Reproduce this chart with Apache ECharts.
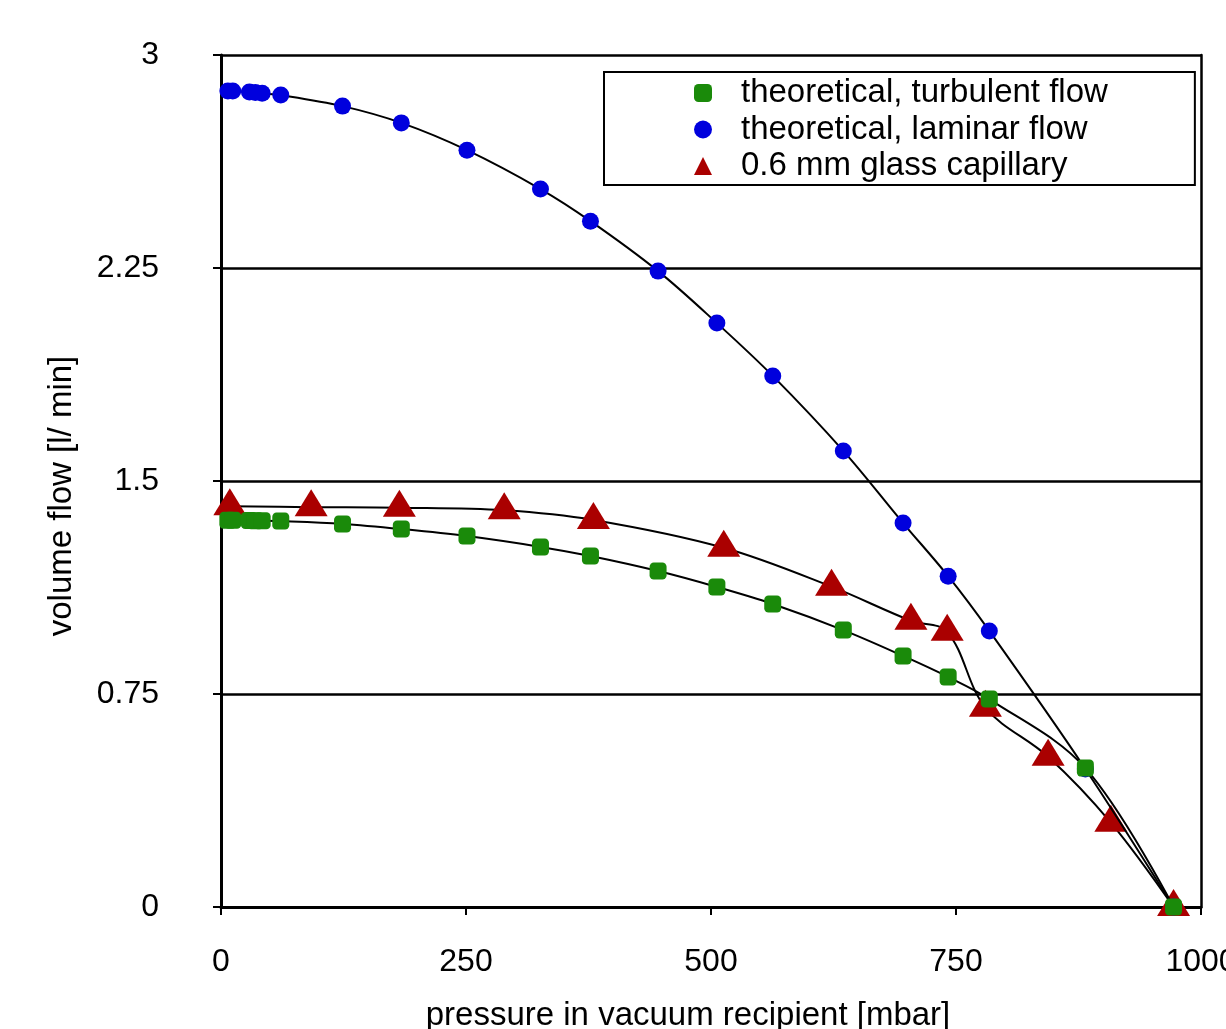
<!DOCTYPE html>
<html>
<head>
<meta charset="UTF-8">
<title>volume flow vs pressure</title>
<script src="https://cdn.jsdelivr.net/npm/echarts@6/dist/echarts.min.js"></script>
<style>
  body { margin: 0; padding: 0; background: #fff; }
  #chart { width: 1226px; height: 1029px; }
</style>
</head>
<body>
<div id="chart"></div>
<script>
// pressure [mbar] for the two theoretical series
var theoPressure = [7, 12, 29, 35, 42, 61, 124, 184, 251, 326, 377, 446, 506, 563, 635, 696, 742, 784, 882, 972];
var laminarFlow = [2.873, 2.873, 2.870, 2.868, 2.865, 2.859, 2.820, 2.761, 2.665, 2.528, 2.415, 2.239, 2.056, 1.870, 1.606, 1.352, 1.165, 0.972, 0.486, 0];
var turbulentFlow = [1.362, 1.362, 1.361, 1.360, 1.360, 1.359, 1.349, 1.331, 1.306, 1.268, 1.236, 1.183, 1.127, 1.067, 0.975, 0.884, 0.810, 0.732, 0.489, 0];

// measured, 0.6 mm glass capillary
var capPressure = [9, 92, 182, 289, 380, 513, 623, 704, 741, 780, 844, 908, 972];
var capFlow = [1.411, 1.408, 1.406, 1.397, 1.363, 1.265, 1.128, 1.008, 0.969, 0.702, 0.529, 0.297, 0];

var xTicks = [0, 250, 500, 750, 1000];
var yTicks = [0, 0.75, 1.5, 2.25, 3];

function pairs(xs, ys) {
    var out = [];
    for (var i = 0; i < xs.length; i++) out.push([xs[i], ys[i]]);
    return out;
}

var font = '"Liberation Sans", Arial, sans-serif';
var chart = echarts.init(document.getElementById('chart'));

chart.setOption({
    animation: false,
    backgroundColor: '#fff',
    textStyle: { fontFamily: font, color: '#000' },
    grid: { left: 221, right: 25, top: 55, bottom: 122, containLabel: false, outerBoundsMode: 'none' },
    legend: {
        orient: 'vertical',
        left: 604,
        top: 72,
        backgroundColor: '#fff',
        borderColor: '#000',
        borderWidth: 2,
        borderRadius: 0,
        padding: [4, 87, 2, 90],
        itemGap: 2.5,
        itemWidth: 18,
        itemHeight: 18,
        textStyle: { fontSize: 33, color: '#000', fontFamily: font, lineHeight: 34, padding: [0, 0, 0, 24] },
        data: [
            { name: 'theoretical, turbulent flow', icon: 'roundRect', itemStyle: { color: '#1a8a0a' } },
            { name: 'theoretical, laminar flow', icon: 'circle', itemStyle: { color: '#0000dd' } },
            { name: '0.6 mm glass capillary', icon: 'triangle', itemStyle: { color: '#aa0000' } }
        ]
    },
    xAxis: {
        type: 'value',
        min: xTicks[0], max: xTicks[xTicks.length - 1], interval: 250,
        name: 'pressure in vacuum recipient [mbar]',
        nameLocation: 'middle',
        nameGap: 92,
        nameTextStyle: { fontSize: 33, color: '#000', fontFamily: font, padding: [0, 46, 0, 0] },
        axisLine: { show: true, lineStyle: { color: '#000', width: 3 } },
        axisTick: { show: true, inside: false, length: 8, lineStyle: { color: '#000', width: 2 } },
        axisLabel: { fontSize: 32, color: '#000', fontFamily: font, margin: 39, hideOverlap: false,
                     formatter: function (v) { return String(v); } },
        splitLine: { show: false }
    },
    yAxis: [{
        type: 'value',
        min: yTicks[0], max: yTicks[yTicks.length - 1], interval: 0.75,
        name: 'volume flow [l/ min]',
        nameLocation: 'middle',
        nameGap: 143,
        nameTextStyle: { fontSize: 33, color: '#000', fontFamily: font, padding: [0, 30, 0, 0] },
        axisLine: { show: true, lineStyle: { color: '#000', width: 3 } },
        axisTick: { show: true, inside: false, length: 8, lineStyle: { color: '#000', width: 2 } },
        axisLabel: { fontSize: 32, color: '#000', fontFamily: font, margin: 62 },
        splitLine: { show: true, lineStyle: { color: '#000', width: 2.5 } }
    }, {
        type: 'value',
        min: 0, max: 3, interval: 0.75,
        position: 'right',
        axisLine: { show: true, lineStyle: { color: '#000', width: 2.5 } },
        axisTick: { show: false },
        axisLabel: { show: false },
        splitLine: { show: false }
    }],
    series: [{
        name: '0.6 mm glass capillary',
        type: 'line',
        smooth: 0.35,
        data: pairs(capPressure, capFlow),
        symbol: 'triangle',
        symbolSize: [33, 27],
        symbolOffset: [0, -4.5],
        itemStyle: { color: '#aa0000' },
        lineStyle: { color: '#000', width: 2 },
        z: 2
    }, {
        name: 'theoretical, laminar flow',
        type: 'line',
        smooth: 0.35,
        data: pairs(theoPressure, laminarFlow),
        symbol: 'circle',
        symbolSize: 17,
        itemStyle: { color: '#0000dd' },
        lineStyle: { color: '#000', width: 2 },
        z: 3
    }, {
        name: 'theoretical, turbulent flow',
        type: 'line',
        smooth: 0.35,
        data: pairs(theoPressure, turbulentFlow),
        symbol: 'roundRect',
        symbolSize: 17,
        itemStyle: { color: '#1a8a0a' },
        lineStyle: { color: '#000', width: 2 },
        z: 4
    }]
});
</script>
</body>
</html>
